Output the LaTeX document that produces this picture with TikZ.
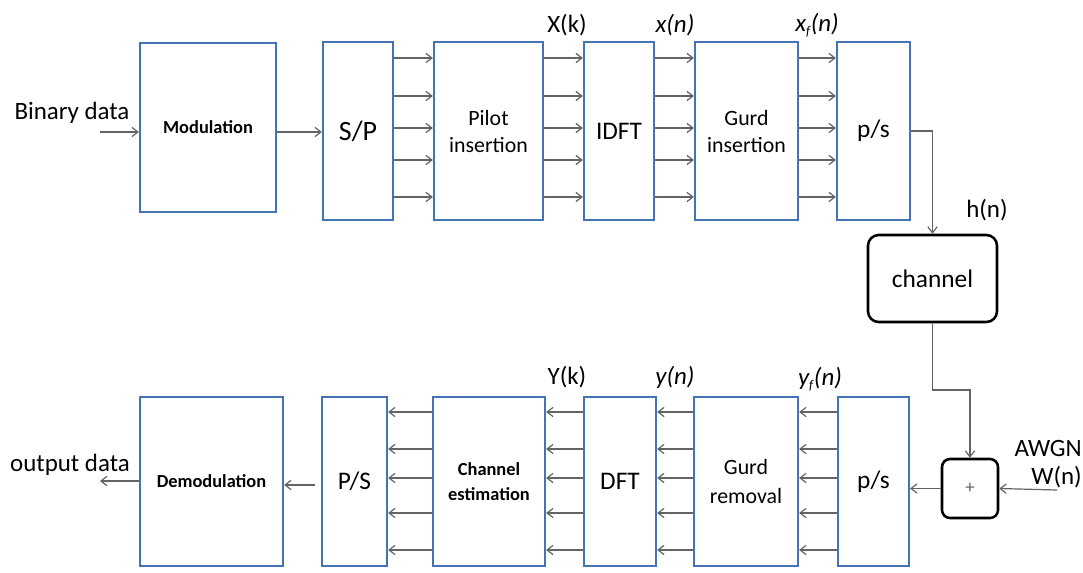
\documentclass[tikz,border=0pt]{standalone}
\usepackage{fontspec}
\setmainfont{Carlito}
\usetikzlibrary{arrows.meta}
\definecolor{boxblue}{RGB}{68,116,180}
\definecolor{arrgray}{RGB}{100,100,100}
\begin{document}
\begin{tikzpicture}[x=0.75pt,y=-0.75pt,
  blk/.style={draw=boxblue,line width=1.7pt,fill=white,inner sep=0pt,align=center,minimum height=#1},
  blk/.default=133.5pt,
  rblk/.style={draw=black,line width=1.9pt,rounded corners=8pt,inner sep=0pt,align=center},
  arr/.style={draw=arrgray,line width=0.9pt,-{Straight Barb[length=4.5pt,width=7pt]}},
  lbl/.style={inner sep=0pt,font=\fontsize{18.7}{22}\selectfont},
  bigtxt/.style={font=\fontsize{19}{22}\selectfont},
  midtxt/.style={font=\fontsize{16.4}{20.25}\selectfont},
  boldtxt/.style={font=\bfseries\fontsize{13.8}{18.75}\selectfont}]
\useasboundingbox (0,0) rectangle (1083,572);

% top chain
\node[blk=126.75pt, minimum width=102pt, boldtxt] (mod) at (208,127.5) {Modulation};
\node[blk, minimum width=52.5pt, font=\fontsize{21}{24}\selectfont] (sp) at (358,131) {S/P};
\node[blk, minimum width=81.75pt, midtxt] (pilot) at (488.5,131) {Pilot\\insertion};
\node[blk, minimum width=52.5pt, bigtxt] (idft) at (619,131) {IDFT};
\node[blk, minimum width=77.25pt, midtxt] (gins) at (746.5,131) {Gurd\\insertion};
\node[blk, minimum width=54.75pt, bigtxt] (ps1) at (873.5,131) {p/s};

% channel and noise
\node[rblk, minimum width=96.75pt, minimum height=65.25pt, font=\fontsize{19}{22}\selectfont] (chan) at (932.5,278.5) {channel};
\node[rblk, minimum width=42pt, minimum height=44.25pt, rounded corners=6pt, font=\fontsize{14}{15}\selectfont\color{arrgray}] (plus) at (970,488.5) {+};

% bottom chain
\node[blk=126.75pt, minimum width=107.25pt, boldtxt] (demod) at (211.5,481.5) {Demodulation};
\node[blk=126.75pt, minimum width=48.75pt, font=\fontsize{19}{22}\selectfont] (psb) at (354.5,481.5) {P/S};
\node[blk=126.75pt, minimum width=84pt, font=\bfseries\fontsize{13.8}{18.75}\selectfont] (ce) at (489,481.5) {Channel\\estimation};
\node[blk=126.75pt, minimum width=54pt, bigtxt] (dft) at (620,481.5) {DFT};
\node[blk=126.75pt, minimum width=78pt, font=\fontsize{16.4}{21.75}\selectfont] (grem) at (746,481.5) {Gurd\\removal};
\node[blk=126.75pt, minimum width=53.25pt, bigtxt] (ps2) at (873.5,481.5) {p/s};

% labels
\node[lbl] (bin) at (72,113) {Binary data};
\node[lbl] (outd) at (70,465) {output data};
\node[lbl] (lXk) at (567,25) {X(k)};
\node[lbl] (lxn) at (675,25) {\itshape x(n)};
\node[lbl] (lxf) at (817,25) {\itshape x\textsubscript{\fontsize{10}{10}\selectfont f}(n)};
\node[lbl] (lh) at (987,210) {h(n)};
\node[lbl] (lYk) at (567,377) {Y(k)};
\node[lbl] (lyn) at (675,377) {\itshape y(n)};
\node[lbl] (lyf) at (820,379) {\itshape y\textsubscript{\fontsize{10}{10}\selectfont f}(n)};
\node[lbl,anchor=east] (lawgn) at (1082,448) {AWGN};
\node[lbl,anchor=east] (lw) at (1082,477) {W(n)};

% coordinates
\coordinate (binin) at (100,132);
\coordinate (outend) at (100,481);
\coordinate (psbout) at (315,485);
\coordinate (bend) at (970,390);
\coordinate (awgnin) at (1057,490);
\foreach \i/\y in {1/58,2/96,3/128,4/160,5/197} {\coordinate (t\i) at (0,\y);}
\foreach \i/\y in {1/412,2/449,3/478,4/513,5/550} {\coordinate (b\i) at (0,\y);}

% connectors top
\draw[arr] (binin) -- (binin -| mod.west);
\draw[arr] (mod.east |- binin) -- (sp.west |- binin);
\foreach \i in {1,...,5} {
  \draw[arr] (sp.east |- t\i) -- (pilot.west |- t\i);
  \draw[arr] (pilot.east |- t\i) -- (idft.west |- t\i);
  \draw[arr] (idft.east |- t\i) -- (gins.west |- t\i);
  \draw[arr] (gins.east |- t\i) -- (ps1.west |- t\i);
}
\draw[arr] (ps1.east) -| (chan.north);
\draw[arr] (chan.south) |- (bend) -- (plus.north);
\draw[arr] (awgnin) -- (plus.east);
\draw[arr] (plus.west) -- (ps2.east |- plus.west);

% connectors bottom
\foreach \i in {1,...,5} {
  \draw[arr] (ps2.west |- b\i) -- (grem.east |- b\i);
  \draw[arr] (grem.west |- b\i) -- (dft.east |- b\i);
  \draw[arr] (dft.west |- b\i) -- (ce.east |- b\i);
  \draw[arr] (ce.west |- b\i) -- (psb.east |- b\i);
}
\draw[arr] (psbout) -- (psbout -| demod.east);
\draw[arr] (demod.west |- outend) -- (outend);
\end{tikzpicture}
\end{document}
